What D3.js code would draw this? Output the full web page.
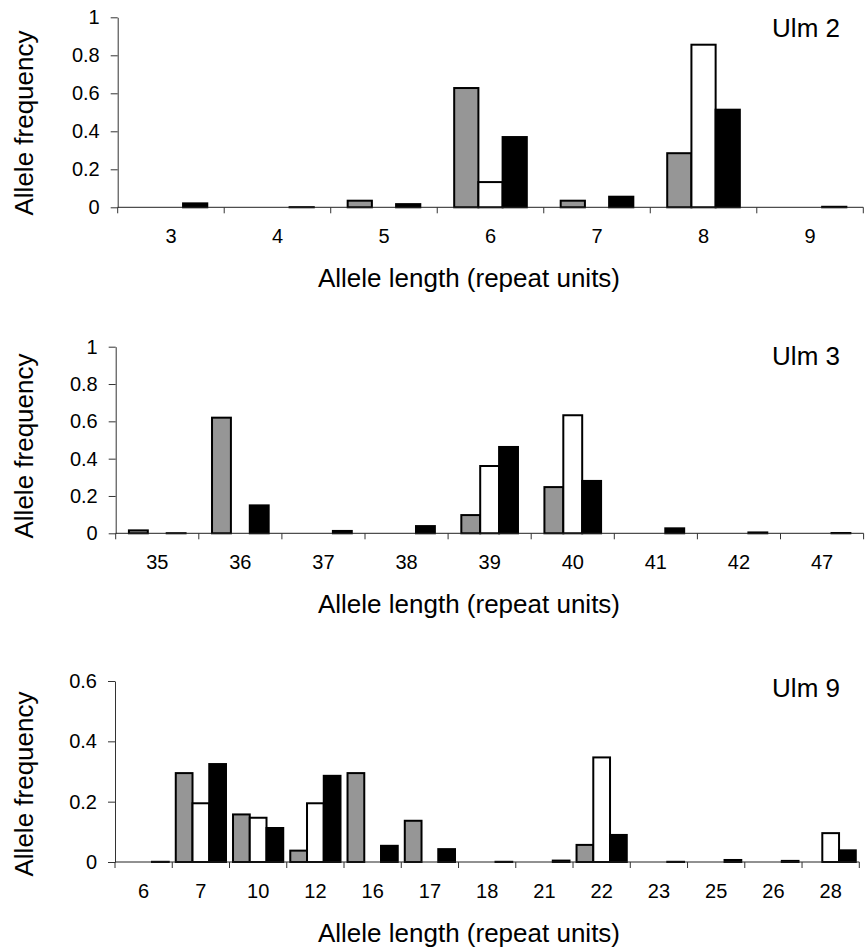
<!DOCTYPE html>
<html>
  <head>
    <title>Allele frequencies Ulm 2 / Ulm 3 / Ulm 9</title>
    <script src="https://d3js.org/d3.v7.min.js"></script>
    <style>
      body {
        margin: 0;
        background: #fff;
      }
      svg {
        display: block;
      }
      svg text {
        font-family: "Liberation Sans", Arial, sans-serif;
        fill: #000;
      }
      .tick text {
        font-size: 20px;
      }
      .title {
        font-size: 26px;
      }
    </style>
  </head>
  <body>
    <svg id="chart"></svg>
    <script>
      // series order in every group: grey, white, black
      const seriesKeys = ["grey", "white", "black"];
      const seriesFill = { grey: "#969696", white: "#ffffff", black: "#000000" };

      // Ulm 2
      const ulm2Alleles = ["3", "4", "5", "6", "7", "8", "9"];
      const ulm2Grey = [0, 0, 0.04, 0.633, 0.04, 0.29, 0];
      const ulm2White = [0, 0, 0, 0.138, 0, 0.861, 0];
      const ulm2Black = [0.026, 0.006, 0.022, 0.375, 0.061, 0.519, 0.008];
      const ulm2Ticks = [0, 0.2, 0.4, 0.6, 0.8, 1];

      // Ulm 3
      const ulm3Alleles = ["35", "36", "37", "38", "39", "40", "41", "42", "47"];
      const ulm3Grey = [0.021, 0.625, 0, 0, 0.103, 0.253, 0, 0, 0];
      const ulm3White = [0, 0, 0, 0, 0.366, 0.638, 0, 0, 0];
      const ulm3Black = [0.006, 0.155, 0.018, 0.044, 0.468, 0.286, 0.032, 0.01, 0.007];
      const ulm3Ticks = [0, 0.2, 0.4, 0.6, 0.8, 1];

      // Ulm 9
      const ulm9Alleles = ["6", "7", "10", "12", "16", "17", "18", "21", "22", "23", "25", "26", "28"];
      const ulm9Grey = [0, 0.298, 0.161, 0.041, 0.298, 0.14, 0, 0, 0.06, 0, 0, 0, 0];
      const ulm9White = [0, 0.198, 0.15, 0.198, 0, 0, 0, 0, 0.35, 0, 0, 0, 0.099];
      const ulm9Black = [0.004, 0.328, 0.116, 0.289, 0.057, 0.046, 0.004, 0.008, 0.093, 0.004, 0.01, 0.007, 0.042];
      const ulm9Ticks = [0, 0.2, 0.4, 0.6];

      const xTitle = "Allele length (repeat units)";
      const yTitle = "Allele frequency";

      const width = 865;
      const height = 949;
      const svg = d3.select("#chart").attr("width", width).attr("height", height);

      // layout of each panel (pixels)
      const panels = [
        {
          name: "Ulm 2", alleles: ulm2Alleles, grey: ulm2Grey, white: ulm2White, black: ulm2Black,
          ticks: ulm2Ticks, left: 117.7, right: 863.3, top: 17.3, bottom: 207.3, gap: 1.4,
          nameY: 37, yTitleY: 123
        },
        {
          name: "Ulm 3", alleles: ulm3Alleles, grey: ulm3Grey, white: ulm3White, black: ulm3Black,
          ticks: ulm3Ticks, left: 115.7, right: 863.6, top: 346.7, bottom: 533.3, gap: 1.4,
          nameY: 365, yTitleY: 446
        },
        {
          name: "Ulm 9", alleles: ulm9Alleles, grey: ulm9Grey, white: ulm9White, black: ulm9Black,
          ticks: ulm9Ticks, left: 115, right: 859.3, top: 681, bottom: 862, gap: 0.42,
          nameY: 697, yTitleY: 784
        }
      ];

      // d3 axes put font attributes on the group; drop them so the css applies
      function plainFont(a) {
        a.attr("font-family", null).attr("font-size", null);
        a.selectAll(".tick text").attr("font-family", null).attr("font-size", null);
      }

      function drawPanel(p) {
        const g = svg.append("g");
        const yMax = p.ticks[p.ticks.length - 1];

        const x = d3.scaleBand(p.alleles, [p.left, p.right]);
        const pad = (p.gap / 2) / (3 + p.gap);
        const xs = d3.scaleBand(seriesKeys, [0, x.bandwidth()])
          .paddingOuter(pad / (1 - 2 * pad) * 3)
          .paddingInner(0);
        const y = d3.scaleLinear([0, yMax], [p.bottom, p.top]);

        const rows = p.alleles.map((a, i) => ({
          allele: a,
          values: [
            { key: "grey", v: p.grey[i] },
            { key: "white", v: p.white[i] },
            { key: "black", v: p.black[i] }
          ].filter(d => d.v > 0)
        }));

        // bars
        g.append("g")
          .selectAll("g")
          .data(rows)
          .join("g")
          .attr("transform", d => `translate(${x(d.allele)},0)`)
          .selectAll("rect")
          .data(d => d.values)
          .join("rect")
          .attr("x", d => xs(d.key))
          .attr("width", xs.bandwidth())
          .attr("y", d => y(d.v) + 1)
          .attr("height", d => Math.max(0, p.bottom - y(d.v) - 1))
          .attr("fill", d => seriesFill[d.key])
          .attr("stroke", "#000")
          .attr("stroke-width", 2);

        // y axis
        g.append("g")
          .attr("transform", `translate(${p.left},0)`)
          .call(d3.axisLeft(y).tickValues(p.ticks).tickFormat(d => String(d))
            .tickSize(7).tickSizeOuter(0).tickPadding(11))
          .call(a => a.select(".domain").attr("stroke", "#333"))
          .call(a => a.selectAll(".tick line").attr("stroke", "#333"))
          .call(plainFont);

        // x axis: labels centred in each band, ticks on band edges
        g.append("g")
          .attr("transform", `translate(0,${p.bottom})`)
          .call(d3.axisBottom(x).tickSize(0).tickPadding(21.8))
          .call(a => a.select(".domain").remove())
          .call(plainFont);

        const edges = p.alleles.map(a => x(a)).concat([x.range()[1]]);
        g.append("line")
          .attr("x1", p.left).attr("x2", p.right)
          .attr("y1", p.bottom).attr("y2", p.bottom)
          .attr("stroke", "#222");
        g.append("g")
          .selectAll("line")
          .data(edges)
          .join("line")
          .attr("x1", d => d).attr("x2", d => d)
          .attr("y1", p.bottom).attr("y2", p.bottom + 6)
          .attr("stroke", "#333");

        // titles
        g.append("text")
          .attr("class", "title")
          .attr("x", 840)
          .attr("y", p.nameY)
          .attr("text-anchor", "end")
          .text(p.name);

        g.append("text")
          .attr("class", "title")
          .attr("x", 469)
          .attr("y", p.bottom + 80)
          .attr("text-anchor", "middle")
          .text(xTitle);

        g.append("text")
          .attr("class", "title")
          .attr("transform", `translate(33,${p.yTitleY}) rotate(-90)`)
          .attr("text-anchor", "middle")
          .text(yTitle);
      }

      panels.forEach(drawPanel);
    </script>
  </body>
</html>
